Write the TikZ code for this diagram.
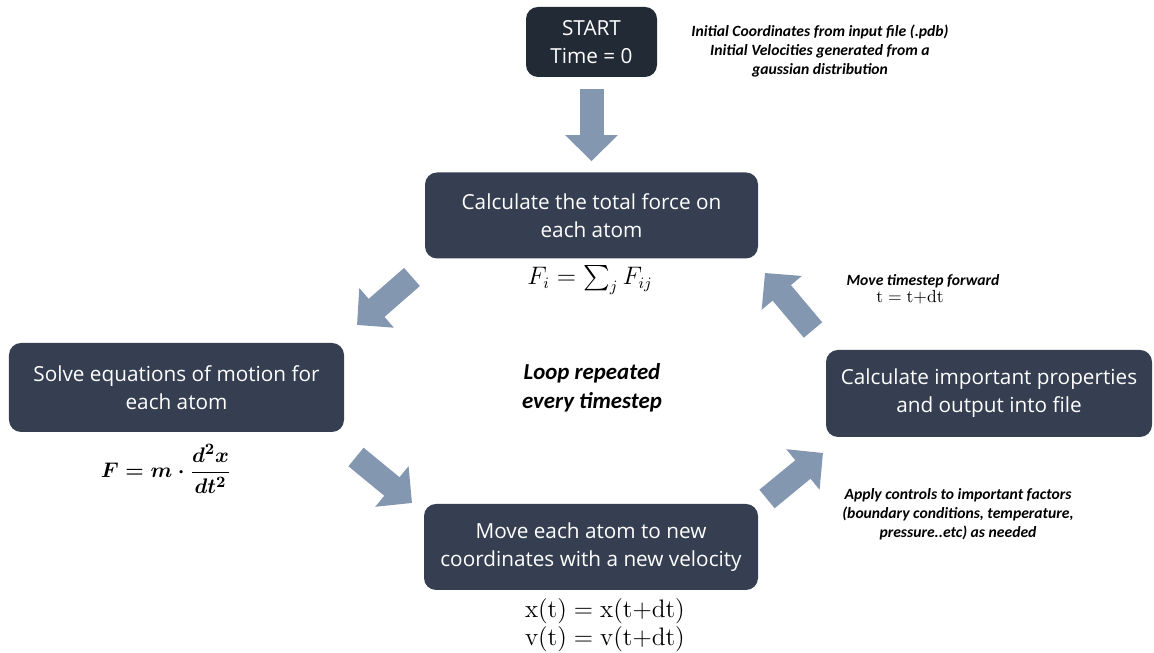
\documentclass[tikz,border=0pt]{standalone}
\usepackage{amsmath}
\usepackage[no-math]{fontspec}
\setmainfont{Open Sans}
\newfontfamily\notefont{Carlito}
\usetikzlibrary{arrows.meta}
\usetikzlibrary{positioning}
\definecolor{startcol}{HTML}{222A36}
\definecolor{boxcol}{HTML}{353F51}
\definecolor{arrowcol}{HTML}{8497B0}
\tikzstyle{startstop} = [rectangle, rounded corners=0.24cm, minimum width=2.62cm, minimum height=1.4cm, text centered, fill=startcol, text=white, font=\fontsize{11.8}{15.5}\selectfont]
\tikzstyle{process} = [rectangle, rounded corners=0.24cm, minimum width=6.66cm, minimum height=1.72cm, text centered, fill=boxcol, text=white, font=\fontsize{11.8}{16}\selectfont]
\tikzstyle{note} = [align=center, font=\notefont\bfseries\itshape\fontsize{8.9}{10.8}\selectfont]
\tikzstyle{arrow} = [line width=0.48cm, draw=arrowcol, -{Triangle[width=1.02cm,length=0.52cm]}]

\begin{document}
\begin{tikzpicture}

    \useasboundingbox (0,0) rectangle (23.08,13.06);

    \node (start) [startstop, align=center] at (11.83,12.22) {START\\Time = 0};
    \node (force) [process, align=center] at (11.83,8.75) {Calculate the total force on\\each atom};
    \node (solve) [process, align=center, minimum width=6.7cm, minimum height=1.78cm] at (3.53,5.31) {Solve equations of motion for\\each atom};
    \node (move) [process, align=center, minimum width=6.68cm] at (11.82,2.12) {Move each atom to new\\coordinates with a new velocity};
    \node (props) [process, align=center, minimum width=6.52cm, minimum height=1.74cm] at (19.78,5.19) {Calculate important properties\\and output into file};

    % annotations
    \node (init) [note] at (16.4,12.04) {Initial Coordinates from input file (.pdb)\\Initial Velocities generated from a\\gaussian distribution};
    \node (fsum) [inner sep=1pt, font=\fontsize{13.5}{16}\selectfont] at (11.8,7.46) {$F_i = \sum_j F_{ij}$};
    \node (fma) [font=\fontsize{12.5}{15}\selectfont] at (3.32,3.68) {$\displaystyle\boldsymbol{F = m\cdot\frac{d^2x}{dt^2}}$};
    \node (loop) [align=center, font=\notefont\bfseries\itshape\fontsize{13}{16.4}\selectfont] at (11.84,5.3) {Loop repeated\\every timestep};
    \node (fwd) [note] at (18.46,7.44) {Move timestep forward};
    \node (tdt) [font=\fontsize{10}{11}\selectfont] at (18.2,7.12) {$\mathrm{t = t{+}dt}$};
    \node (ctrl) [note] at (19.16,2.78) {Apply controls to important factors\\(boundary conditions, temperature,\\pressure..etc) as needed};
    \node (upd) [align=center, font=\fontsize{14.3}{15.8}\selectfont] at (12.1,0.56) {$\mathrm{x(t) = x(t{+}dt)}$\\$\mathrm{v(t) = v(t{+}dt)}$};

    % loop arrows
    \coordinate (a1s) at (8.24,7.52);
    \coordinate (a1e) at (7.14,6.56);
    \coordinate (a2s) at (7.12,3.92);
    \coordinate (a2e) at (8.24,3.0);
    \coordinate (a3s) at (15.34,3.08);
    \coordinate (a3e) at (16.46,4.0);
    \coordinate (a4s) at (16.26,6.46);
    \coordinate (a4e) at (15.3,7.6);

    \draw [arrow, shorten <=0.24cm, shorten >=0.22cm] (start) -- (force);
    \draw [arrow] (a1s) -- (a1e);
    \draw [arrow] (a2s) -- (a2e);
    \draw [arrow] (a3s) -- (a3e);
    \draw [arrow] (a4s) -- (a4e);

\end{tikzpicture}
\end{document}
